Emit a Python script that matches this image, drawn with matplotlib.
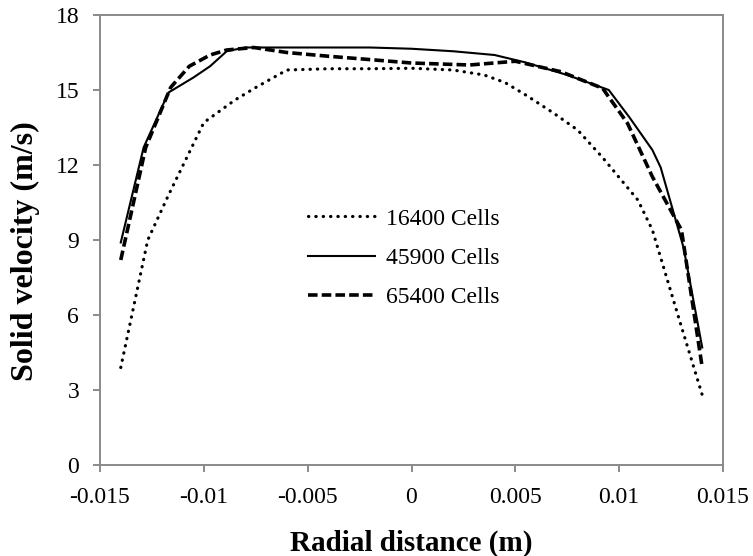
import numpy as np
import matplotlib
matplotlib.use('Agg')
import matplotlib.pyplot as plt

plt.rcParams['font.family'] = ['Liberation Serif', 'DejaVu Serif']

# radial positions (m) and solid velocity (m/s) for each mesh
x_16400 = [-0.014, -0.0127, -0.0117, -0.0100, -0.0085, -0.0075, -0.006, -0.004, -0.002, 0.0,
           0.002, 0.0035, 0.0045, 0.0055, 0.0068, 0.008, 0.0092, 0.0102, 0.0109, 0.0116, 0.0129, 0.014]
v_16400 = [3.9, 9.0, 10.8, 13.7, 14.6, 15.1, 15.8, 15.85, 15.85, 15.87,
           15.8, 15.6, 15.3, 14.8, 14.1, 13.4, 12.3, 11.3, 10.6, 9.4, 5.8, 2.8]

x_45900 = [-0.014, -0.0129, -0.0117, -0.0105, -0.0097, -0.0089, -0.008, -0.006, -0.004, -0.002, 0.0,
           0.002, 0.004, 0.0055, 0.0075, 0.0095, 0.0105, 0.0116, 0.0120, 0.0131, 0.014]
v_45900 = [8.9, 12.7, 14.9, 15.5, 15.95, 16.55, 16.7, 16.7, 16.7, 16.7, 16.65,
           16.55, 16.4, 16.1, 15.6, 15.0, 13.9, 12.6, 11.9, 8.7, 4.7]

x_65400 = [-0.014, -0.0128, -0.0116, -0.0107, -0.0097, -0.0089, -0.0076, -0.006, -0.004, -0.0025, 0.0,
           0.0028, 0.005, 0.0072, 0.0092, 0.0104, 0.0116, 0.013, 0.014]
v_65400 = [8.2, 12.7, 15.1, 15.95, 16.4, 16.6, 16.7, 16.5, 16.35, 16.25, 16.08,
           16.0, 16.15, 15.73, 15.07, 13.67, 11.53, 9.4, 3.9]

labels = ['16400 Cells', '45900 Cells', '65400 Cells']
xticks = [-0.015, -0.01, -0.005, 0, 0.005, 0.01, 0.015]
xtick_labels = ['-0.015', '-0.01', '-0.005', '0', '0.005', '0.01', '0.015']
yticks = [0, 3, 6, 9, 12, 15, 18]

fig = plt.figure(figsize=(7.53, 5.56), dpi=100)
ax = fig.add_axes([100 / 753, 1 - 465 / 556, 623 / 753, 450 / 556])

ax.plot(x_16400, v_16400, color='black', linewidth=2.3, linestyle=(0, (0.1, 2.2)),
        dash_capstyle='round', label=labels[0])
ax.plot(x_45900, v_45900, color='black', linewidth=1.5, label=labels[1])
ax.plot(x_65400, v_65400, color='black', linewidth=2.6, linestyle=(0, (2.65, 1.15)),
        label=labels[2])

ax.set_xlim(-0.015, 0.015)
ax.set_ylim(0, 18)
ax.set_xticks(xticks)
ax.set_xticklabels(xtick_labels)
ax.set_yticks(yticks)

for s in ax.spines.values():
    s.set_color('#8a8a8a')
    s.set_linewidth(1.4)
ax.tick_params(axis='both', direction='out', length=5, width=1.4, color='#8a8a8a', labelsize=17)
ax.tick_params(axis='x', pad=10.5)
ax.tick_params(axis='y', pad=10)

ax.set_xlabel('Radial distance (m)', fontsize=21, fontweight='bold')
ax.set_ylabel('Solid velocity (m/s)', fontsize=23, fontweight='bold')
ax.xaxis.set_label_coords(0.5, -0.144)
ax.yaxis.set_label_coords(-0.097, 0.476)

ax.legend(loc='center left', bbox_to_anchor=(0.334, 0.46), frameon=False, fontsize=17,
          handlelength=2.85, handletextpad=0.45, labelspacing=0.75, borderpad=0, borderaxespad=0)

fig.savefig('out.png', dpi=100)
